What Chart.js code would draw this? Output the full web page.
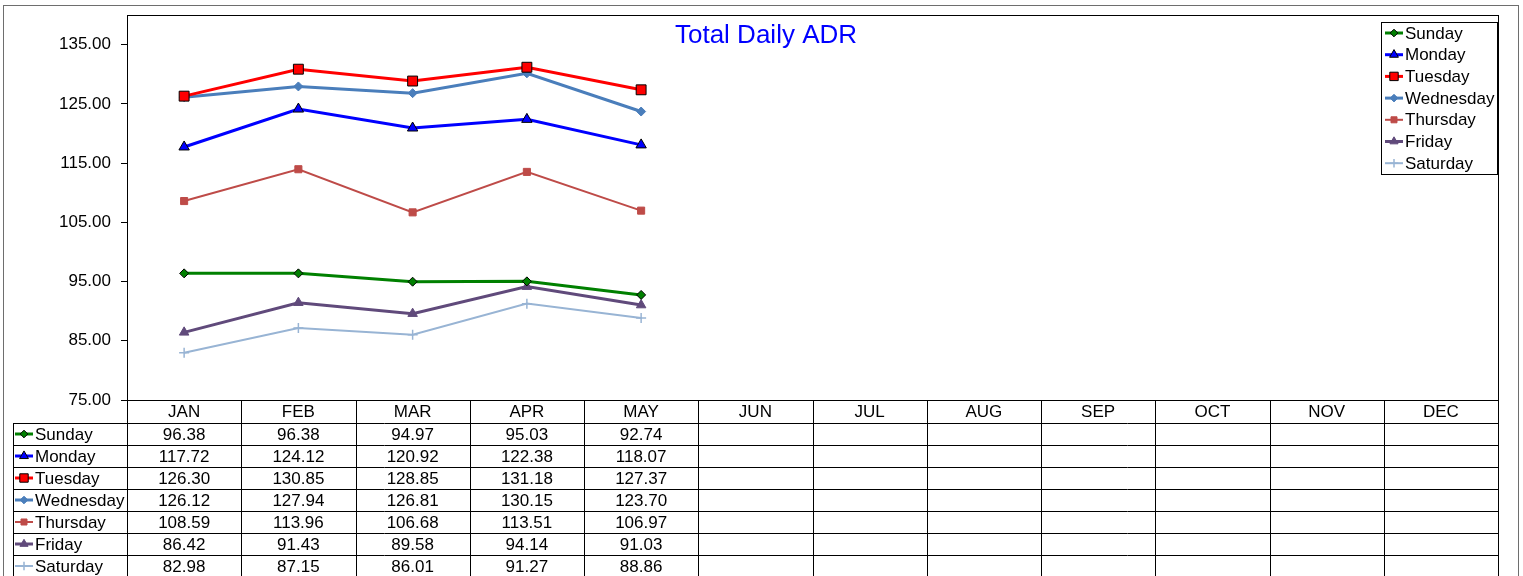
<!DOCTYPE html>
<html>
<head>
<meta charset="utf-8">
<title>Total Daily ADR</title>
<script src="https://cdn.jsdelivr.net/npm/chart.js@4.4.1/dist/chart.umd.min.js"></script>
<style>
  html, body { margin: 0; padding: 0; background: #fff; }
  #wrap { width: 1523px; height: 576px; }
</style>
</head>
<body>
<div id="wrap"><canvas id="adr" width="1523" height="576"></canvas></div>
<script>
// Months on the x axis / data table header
const months = ['JAN', 'FEB', 'MAR', 'APR', 'MAY', 'JUN', 'JUL', 'AUG', 'SEP', 'OCT', 'NOV', 'DEC'];

// ADR per weekday, by month (only Jan-May reported)
const sunday    = [96.38, 96.38, 94.97, 95.03, 92.74];
const monday    = [117.72, 124.12, 120.92, 122.38, 118.07];
const tuesday   = [126.30, 130.85, 128.85, 131.18, 127.37];
const wednesday = [126.12, 127.94, 126.81, 130.15, 123.70];
const thursday  = [108.59, 113.96, 106.68, 113.51, 106.97];
const friday    = [86.42, 91.43, 89.58, 94.14, 91.03];
const saturday  = [82.98, 87.15, 86.01, 91.27, 88.86];

// y axis tick values
const yTicks = [75, 85, 95, 105, 115, 125, 135];

const FONT = "'Liberation Sans', Arial, sans-serif";

// series styling
const series = [
  { label: 'Sunday',    data: sunday,    color: '#008000', width: 3, style: 'rectRot',  radius: 4.5, edge: '#000' },
  { label: 'Monday',    data: monday,    color: '#0000FF', width: 3, style: 'triangle', radius: 6,   edge: '#000' },
  { label: 'Tuesday',   data: tuesday,   color: '#FF0000', width: 3, style: 'rect',     radius: 7,   edge: '#000' },
  { label: 'Wednesday', data: wednesday, color: '#4A7EBB', width: 3, style: 'rectRot',  radius: 4.5, edge: null },
  { label: 'Thursday',  data: thursday,  color: '#BE4B48', width: 2, style: 'rect',     radius: 5,   edge: null },
  { label: 'Friday',    data: friday,    color: '#604A7B', width: 3, style: 'triangle', radius: 5.5, edge: null },
  { label: 'Saturday',  data: saturday,  color: '#98B4D4', width: 2, style: 'cross',    radius: 5,   edge: null }
];

// draws the little line+marker key used in legend and table
function drawKey(ctx, s, x0, x1, y) {
  ctx.save();
  ctx.strokeStyle = s.color;
  ctx.lineWidth = s.width;
  ctx.beginPath();
  ctx.moveTo(x0, y);
  ctx.lineTo(x1, y);
  ctx.stroke();
  ctx.fillStyle = s.color;
  ctx.strokeStyle = s.style === 'cross' ? s.color : (s.edge || s.color);
  ctx.lineWidth = s.style === 'cross' ? 1.5 : 1;
  Chart.helpers.drawPoint(ctx, { pointStyle: s.style, radius: s.radius * 0.85, rotation: 0, borderWidth: ctx.lineWidth }, (x0 + x1) / 2, y);
  ctx.restore();
}

// Excel-style frame, title, legend box and data table
const decorPlugin = {
  id: 'decor',
  afterDraw(chart) {
    const ctx = chart.ctx;
    const area = chart.chartArea;
    const xs = chart.scales.x;
    const colW = (area.right - area.left) / months.length;

    ctx.save();
    // outer chart border
    ctx.strokeStyle = '#6e6e6e';
    ctx.lineWidth = 1;
    ctx.strokeRect(3.5, 5.5, 1515, 620);

    // plot area border
    ctx.strokeStyle = '#000';
    ctx.strokeRect(Math.round(area.left) + 0.5, Math.round(area.top) + 0.5,
      Math.round(area.right - area.left), Math.round(area.bottom - area.top));

    // title
    ctx.fillStyle = '#0000FF';
    ctx.font = '26px ' + FONT;
    ctx.textAlign = 'center';
    ctx.textBaseline = 'middle';
    ctx.fillText('Total Daily ADR', 766, 36);

    // legend
    ctx.fillStyle = '#fff';
    ctx.fillRect(1381, 22, 116, 152);
    ctx.strokeStyle = '#000';
    ctx.strokeRect(1381.5, 22.5, 116, 152);
    ctx.font = '17px ' + FONT;
    ctx.textAlign = 'left';
    series.forEach((s, i) => {
      const y = 33 + i * 21.7;
      drawKey(ctx, s, 1385, 1403, y);
      ctx.fillStyle = '#000';
      ctx.fillText(s.label, 1405, y + 1);
    });

    // data table
    const top = Math.round(area.bottom);
    const headH = 23;
    const rowH = 22;
    const tableL = 13;
    const bottom = top + headH + rowH * series.length;
    ctx.strokeStyle = '#000';
    ctx.lineWidth = 1;
    ctx.beginPath();
    // vertical lines
    for (let k = 0; k <= months.length; k++) {
      const x = Math.round(area.left + k * colW) + 0.5;
      ctx.moveTo(x, top);
      ctx.lineTo(x, bottom);
    }
    ctx.moveTo(tableL + 0.5, top + headH);
    ctx.lineTo(tableL + 0.5, bottom);
    // horizontal lines
    for (let r = 0; r <= series.length; r++) {
      const y = top + headH + r * rowH + 0.5;
      ctx.moveTo(tableL, y);
      ctx.lineTo(Math.round(area.right) + 1, y);
    }
    ctx.stroke();

    ctx.fillStyle = '#000';
    ctx.font = '17px ' + FONT;
    ctx.textAlign = 'center';
    months.forEach((m, k) => {
      ctx.fillText(m, xs.getPixelForValue(k), top + headH / 2 + 1);
    });
    series.forEach((s, r) => {
      const yc = top + headH + r * rowH + rowH / 2 + 1;
      drawKey(ctx, s, 15, 33, yc - 1);
      ctx.fillStyle = '#000';
      ctx.textAlign = 'left';
      ctx.fillText(s.label, 35, yc);
      ctx.textAlign = 'center';
      s.data.forEach((v, k) => {
        if (v == null) return;
        ctx.fillText(v.toFixed(2), xs.getPixelForValue(k), yc);
      });
    });
    ctx.restore();
  }
};

new Chart(document.getElementById('adr'), {
  type: 'line',
  data: {
    labels: months,
    datasets: series.map(s => ({
      label: s.label,
      data: s.data,
      borderColor: s.color,
      borderWidth: s.width,
      backgroundColor: s.color,
      pointStyle: s.style,
      pointRadius: s.radius,
      pointBackgroundColor: s.color,
      pointBorderColor: s.style === 'cross' ? s.color : (s.edge || s.color),
      pointBorderWidth: s.style === 'cross' ? 1.5 : 1,
      tension: 0,
      fill: false
    }))
  },
  options: {
    responsive: false,
    animation: false,
    layout: { padding: { left: 0, top: 15, right: 25, bottom: 176 } },
    plugins: {
      legend: { display: false },
      title: { display: false },
      tooltip: { enabled: false }
    },
    scales: {
      x: { display: false, offset: true },
      y: {
        min: 75,
        max: 140,
        afterBuildTicks: scale => { scale.ticks = yTicks.map(v => ({ value: v })); },
        afterFit: scale => { scale.width = 127; scale.paddingTop = 0; scale.paddingBottom = 0; },
        ticks: {
          color: '#000',
          padding: 10,
          font: { family: FONT, size: 17 },
          callback: v => Number(v).toFixed(2)
        },
        grid: { drawOnChartArea: false, color: '#000', tickLength: 6 },
        border: { color: '#000' }
      }
    }
  },
  plugins: [decorPlugin]
});
</script>
</body>
</html>
